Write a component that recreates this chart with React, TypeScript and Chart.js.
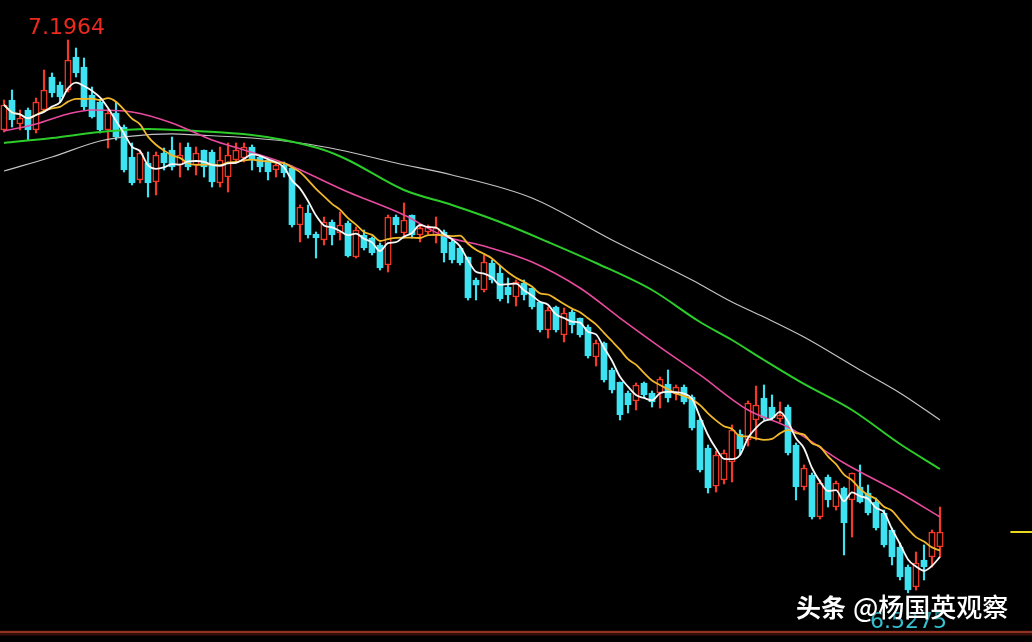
import { useEffect, useRef } from "react";
import { Chart, registerables } from "chart.js";

Chart.register(...registerables);

// ---- candle data (price, one entry per trading day) ----
const opens = [
  7.0875, 7.1238, 7.0948, 7.1117, 7.0875, 7.1117, 7.1516, 7.142, 7.1359, 7.1758,
  7.1637, 7.1299, 7.1214, 7.0875, 7.1081, 7.0911, 7.0548, 7.027, 7.0476, 7.0246,
  7.0597, 7.0633, 7.0452, 7.0669, 7.0452, 7.0633, 7.0609, 7.0234, 7.0306, 7.0512,
  7.0536, 7.0669, 7.0548, 7.0512, 7.0391, 7.0452, 7.0415, 6.9726, 6.9871, 6.9617,
  6.9544, 6.9762, 6.9629, 6.975, 6.9338, 6.9605, 6.9568, 6.9484, 6.9242, 6.9822,
  6.9629, 6.9847, 6.9605, 6.9641, 6.9605, 6.9641, 6.952, 6.9447, 6.9338, 6.906,
  6.8939, 6.9266, 6.9145, 6.8975, 6.8854, 6.9024, 6.8963, 6.8794, 6.8455, 6.8733,
  6.8395, 6.8673, 6.86, 6.8491, 6.8128, 6.8298, 6.7971, 6.7826, 6.7693, 6.7596,
  6.7814, 6.7693, 6.7693, 6.7802, 6.7681, 6.7765, 6.7644, 6.7366, 6.7027, 6.6567,
  6.664, 6.6858, 6.7197, 6.7124, 6.7366, 6.7632, 6.7523, 6.7378, 6.7523, 6.7064,
  6.6555, 6.6701, 6.6192, 6.6676, 6.6313, 6.6543, 6.6398, 6.6555, 6.6483, 6.6374,
  6.6241, 6.6035, 6.5829, 6.5587, 6.5345, 6.5672, 6.5708, 6.5829,
];
const highs = [
  7.1238, 7.1359, 7.1117, 7.1141, 7.1262, 7.1601, 7.1565, 7.1456, 7.1964, 7.1867,
  7.1746, 7.1395, 7.1238, 7.1117, 7.1214, 7.0936, 7.0718, 7.0633, 7.0609, 7.0609,
  7.0657, 7.079, 7.0718, 7.0718, 7.0669, 7.0633, 7.0633, 7.0669, 7.0718, 7.0718,
  7.0718, 7.0694, 7.0573, 7.0536, 7.0488, 7.0488, 7.0439, 6.9968, 6.9968, 6.9641,
  6.9822, 6.9786, 6.9883, 6.9774, 6.9701, 6.9665, 6.958, 6.9508, 6.9847, 6.9847,
  6.9992, 6.9847, 6.9726, 6.9726, 6.9822, 6.9665, 6.9544, 6.9471, 6.9338, 6.9084,
  6.9363, 6.9302, 6.9229, 6.9084, 6.906, 6.906, 6.8963, 6.8794, 6.8733, 6.8745,
  6.8721, 6.8697, 6.86, 6.8516, 6.8334, 6.831, 6.7995, 6.7826, 6.7717, 6.7814,
  6.7826, 6.7717, 6.7886, 6.7971, 6.779, 6.779, 6.7669, 6.739, 6.7064, 6.6991,
  6.7003, 6.7306, 6.7245, 6.7596, 6.7777, 6.779, 6.7669, 6.7584, 6.7548, 6.7088,
  6.6822, 6.6725, 6.664, 6.6701, 6.6628, 6.6555, 6.6725, 6.6822, 6.658, 6.6422,
  6.6277, 6.6059, 6.5878, 6.5612, 6.5769, 6.5854, 6.6035, 6.6313,
];
const lows = [
  7.0851, 7.0911, 7.0875, 7.0754, 7.0839, 7.1093, 7.1274, 7.1214, 7.1335, 7.1516,
  7.1117, 7.102, 7.0839, 7.0657, 7.0754, 7.0367, 7.021, 7.0234, 7.0064, 7.0089,
  7.0391, 7.0391, 7.0306, 7.0391, 7.0331, 7.0306, 7.0185, 7.0185, 7.0125, 7.0476,
  7.0488, 7.0391, 7.0367, 7.027, 7.0306, 7.0306, 6.9701, 6.952, 6.9568, 6.9326,
  6.9484, 6.9484, 6.9544, 6.9338, 6.9326, 6.9423, 6.9363, 6.9181, 6.9157, 6.9629,
  6.9568, 6.9568, 6.952, 6.9617, 6.9508, 6.9278, 6.9266, 6.9242, 6.8818, 6.8818,
  6.8915, 6.9024, 6.8806, 6.8782, 6.8745, 6.8818, 6.8709, 6.8431, 6.8358, 6.8431,
  6.831, 6.8419, 6.837, 6.8116, 6.8019, 6.7826, 6.7693, 6.7366, 6.7451, 6.7487,
  6.7632, 6.7523, 6.7511, 6.7584, 6.7608, 6.756, 6.7245, 6.6737, 6.6483, 6.6495,
  6.6592, 6.6616, 6.6943, 6.7051, 6.7124, 6.7366, 6.7366, 6.7342, 6.6943, 6.6398,
  6.6519, 6.6168, 6.6168, 6.6313, 6.6277, 6.5733, 6.595, 6.6362, 6.6217, 6.6035,
  6.5829, 6.5612, 6.543, 6.5275, 6.5309, 6.543, 6.5587, 6.5708,
];
const closes = [
  7.1178, 7.0996, 7.102, 7.0875, 7.1214, 7.1359, 7.1323, 7.1274, 7.1722, 7.1565,
  7.1153, 7.1032, 7.0875, 7.1081, 7.079, 7.0391, 7.0234, 7.0597, 7.0234, 7.0573,
  7.0476, 7.0427, 7.0573, 7.0427, 7.0597, 7.0427, 7.0246, 7.0512, 7.0573, 7.0633,
  7.0669, 7.0512, 7.0427, 7.0367, 7.0452, 7.0355, 6.9726, 6.9943, 6.9605, 6.9568,
  6.9762, 6.9605, 6.9726, 6.935, 6.9665, 6.9447, 6.9387, 6.9205, 6.9822, 6.9726,
  6.9786, 6.9605, 6.9689, 6.9701, 6.9689, 6.9387, 6.9302, 6.9266, 6.8842, 6.8999,
  6.9278, 6.906, 6.883, 6.8879, 6.9036, 6.8879, 6.8733, 6.8455, 6.8697, 6.8455,
  6.8661, 6.8516, 6.8395, 6.814, 6.8298, 6.785, 6.7729, 6.7427, 6.7548, 6.779,
  6.7669, 6.7584, 6.7862, 6.7632, 6.7765, 6.7584, 6.7269, 6.6761, 6.6543, 6.6943,
  6.6967, 6.7245, 6.7015, 6.7572, 6.7548, 6.739, 6.739, 6.7427, 6.6967, 6.6555,
  6.6785, 6.6192, 6.6604, 6.6398, 6.6604, 6.612, 6.6725, 6.6374, 6.6241, 6.6059,
  6.5854, 6.5708, 6.5466, 6.5309, 6.5636, 6.5587, 6.6011, 6.6011,
];

// ---- longer moving averages: [day index, price] ----
const ma20Points = [
  [0, 7.0863], [4, 7.0948], [8, 7.1069], [11, 7.1117], [16, 7.1093], [21, 7.096],
  [26, 7.0754], [30, 7.0633], [35, 7.0476], [43, 7.0125], [50, 6.9847], [55, 6.9592],
  [60, 6.9471], [66, 6.9278], [72, 6.8963], [77, 6.86], [82, 6.8249], [87, 6.7911],
  [93, 6.7487], [98, 6.7281], [105, 6.6846], [112, 6.6483], [117, 6.6192],
];
const ma60Points = [
  [0, 7.0718], [6, 7.0778], [12, 7.0851], [18, 7.0887], [24, 7.0863], [31, 7.0815],
  [35, 7.0754], [40, 7.0633], [43, 7.0512], [50, 7.0149], [56, 6.9968], [62, 6.9762],
  [68, 6.952], [74, 6.9266], [81, 6.8939], [87, 6.8552], [91, 6.8334], [95, 6.8092],
  [100, 6.7802], [106, 6.7487], [112, 6.7076], [117, 6.6773],
];
const ma120Points = [
  [0, 7.0379], [6, 7.0548], [12, 7.0742], [16, 7.0802], [21, 7.0827], [24, 7.0815],
  [31, 7.0778], [37, 7.0718], [42, 7.0633], [49, 7.0476], [56, 7.0331], [66, 7.0052],
  [76, 6.9544], [86, 6.906], [91, 6.8794], [95, 6.8612], [100, 6.837], [107, 6.7971],
  [112, 6.7693], [117, 6.7366],
];

const highLabel = "7.1964";
const lowLabel = "6.5275";
const watermarkA = "头条";
const watermarkB = "@杨国英观察";
const baseLineValue = 6.4801;
const markFrom = 125.8;
const slotCount = 129;
const yMin = 6.468;
const yMax = 7.2448;

const RED = "#f23a26";
const CYAN = "#3ee2f0";

function movingAverage(src: number[], n: number) {
  return src.map((_, i) => {
    const s = src.slice(Math.max(0, i - n + 1), i + 1);
    return s.reduce((a, b) => a + b, 0) / s.length;
  });
}

const overlay = {
  id: "overlay",
  beforeDatasetsDraw(chart: any) {
    const { ctx, scales, chartArea } = chart;
    const y = scales.y;
    ctx.save();
    const by = y.getPixelForValue(baseLineValue);
    ctx.strokeStyle = "rgba(120,30,20,0.45)";
    ctx.lineWidth = 5;
    ctx.beginPath();
    ctx.moveTo(chartArea.left, by + 1);
    ctx.lineTo(chartArea.right, by + 1);
    ctx.stroke();
    ctx.strokeStyle = "#8e3222";
    ctx.lineWidth = 2;
    ctx.beginPath();
    ctx.moveTo(chartArea.left, by);
    ctx.lineTo(chartArea.right, by);
    ctx.stroke();
    ctx.restore();
  },
  afterDatasetsDraw(chart: any) {
    const { ctx, scales } = chart;
    const x = scales.x;
    const y = scales.y;
    ctx.save();
    const hi = Math.max(...highs);
    const hiIdx = highs.indexOf(hi);
    ctx.font = "22px 'DejaVu Sans'";
    ctx.textBaseline = "alphabetic";
    ctx.textAlign = "left";
    ctx.fillStyle = "#ec2a1e";
    ctx.fillText(highLabel, x.getPixelForValue(hiIdx) - 40, y.getPixelForValue(hi) - 6);
    const lo = Math.min(...lows);
    const loIdx = lows.indexOf(lo);
    ctx.fillStyle = "#36c4d4";
    ctx.fillText(lowLabel, x.getPixelForValue(loIdx) - 38, y.getPixelForValue(lo) + 35);
    ctx.shadowColor = "rgba(0,0,0,0.8)";
    ctx.shadowBlur = 4;
    ctx.fillStyle = "#ffffff";
    ctx.textBaseline = "middle";
    ctx.font = "bold 25px 'Noto Sans CJK SC'";
    ctx.fillText(watermarkA, 796, 607);
    ctx.font = "500 26px 'Noto Sans CJK SC'";
    ctx.fillText(watermarkB, 853, 607);
    ctx.restore();
  },
};

export default function App() {
  const ref = useRef<HTMLCanvasElement | null>(null);

  useEffect(() => {
    const canvas = ref.current;
    if (!canvas) return;
    const idx = opens.map((_, i) => i);
    const up = idx.map((i) => closes[i] >= opens[i]);
    const ma5 = movingAverage(closes, 5);
    const ma10 = movingAverage(closes, 10);
    const toPts = (arr: number[][]) => arr.map(([i, v]) => ({ x: i, y: v }));
    const lastClose = closes[closes.length - 1];

    const lineBase = {
      type: "line" as const,
      pointRadius: 0,
      fill: false,
      cubicInterpolationMode: "monotone" as const,
    };

    const chart = new Chart(canvas, {
      type: "bar",
      data: {
        datasets: [
          {
            type: "bar",
            label: "wick",
            data: idx.map((i) => ({ x: i, y: [lows[i], highs[i]] })) as any,
            backgroundColor: up.map((u) => (u ? RED : CYAN)),
            borderWidth: 0,
            barThickness: 1.5,
            grouped: false,
            order: 6,
          },
          {
            type: "bar",
            label: "body",
            data: idx.map((i) => ({ x: i, y: [opens[i], closes[i]] })) as any,
            backgroundColor: up.map((u) => (u ? "#000000" : CYAN)),
            borderColor: up.map((u) => (u ? RED : CYAN)),
            borderWidth: up.map((u) => (u ? 1.5 : 1)),
            borderSkipped: false,
            barThickness: 6.5,
            grouped: false,
            order: 5,
          },
          { ...lineBase, label: "MA120", data: toPts(ma120Points), borderColor: "#c4c4c4", borderWidth: 1.2, order: 4 },
          { ...lineBase, label: "MA60", data: toPts(ma60Points), borderColor: "#2ccc2a", borderWidth: 2, order: 3 },
          { ...lineBase, label: "MA20", data: toPts(ma20Points), borderColor: "#e84a9e", borderWidth: 1.6, order: 2 },
          { ...lineBase, label: "MA10", data: idx.map((i) => ({ x: i, y: ma10[i] })), borderColor: "#f0b82a", borderWidth: 1.8, order: 1 },
          { ...lineBase, label: "MA5", data: idx.map((i) => ({ x: i, y: ma5[i] })), borderColor: "#f6f6f6", borderWidth: 1.8, order: 0 },
          {
            type: "line",
            label: "last",
            data: [
              { x: markFrom, y: lastClose },
              { x: slotCount - 0.5, y: lastClose },
            ],
            borderColor: "#e8d820",
            borderWidth: 2,
            pointRadius: 0,
            order: 0,
          },
        ] as any,
      },
      options: {
        responsive: false,
        animation: false,
        devicePixelRatio: 1,
        events: [],
        layout: { padding: 0 },
        scales: {
          x: { type: "linear", min: -0.5, max: slotCount - 0.5, offset: false, display: false },
          y: { type: "linear", min: yMin, max: yMax, display: false },
        },
        plugins: {
          legend: { display: false },
          tooltip: { enabled: false },
        },
      },
      plugins: [overlay],
    });
    return () => chart.destroy();
  }, []);

  return (
    <div
      style={{
        position: "fixed",
        left: 0,
        top: 0,
        width: 1032,
        height: 642,
        background: "#000000",
      }}
    >
      <canvas ref={ref} width={1032} height={642} style={{ display: "block" }} />
    </div>
  );
}
